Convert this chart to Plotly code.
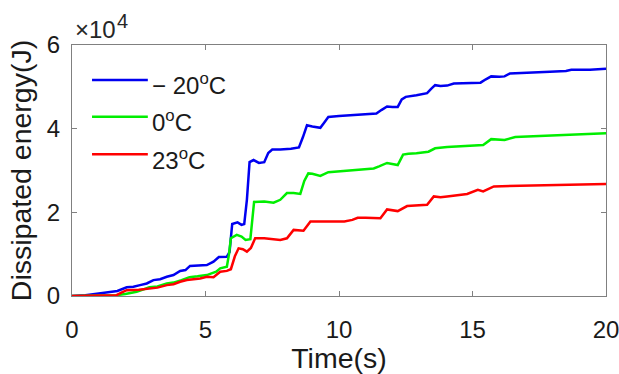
import plotly.graph_objects as go

# ---- data (energy in units of 1e4 J) ----
t_m20 = [0, 0.5, 1.0, 1.4, 1.7, 2.05, 2.3, 2.55, 2.8, 3.05, 3.3, 3.55, 3.8, 4.05, 4.25,
         4.42, 4.7, 5.05, 5.3, 5.5, 5.8, 5.9, 6.0, 6.2, 6.35, 6.45, 6.55, 6.65, 6.8, 7.0,
         7.2, 7.35, 7.5, 7.8, 8.2, 8.5, 8.65, 8.8, 9.0, 9.3, 9.45, 9.6, 10.0, 10.5, 11.0,
         11.4, 11.6, 11.8, 12.0, 12.2, 12.35, 12.5, 12.9, 13.3, 13.45, 13.6, 13.8, 14.05,
         14.3, 14.8, 15.3, 15.5, 15.7, 16.0, 16.2, 16.4, 17.0, 17.9, 18.5, 18.7, 19.4, 20]
e_m20 = [0, 0.02, 0.06, 0.09, 0.12, 0.21, 0.22, 0.26, 0.30, 0.38, 0.40, 0.46, 0.50, 0.60, 0.62,
         0.72, 0.73, 0.74, 0.82, 0.93, 0.94, 1.05, 1.72, 1.76, 1.70, 1.72, 2.3, 3.2, 3.25, 3.18,
         3.2, 3.42, 3.5, 3.5, 3.52, 3.55, 3.8, 4.08, 4.05, 4.02, 4.15, 4.28, 4.30, 4.32, 4.34,
         4.36, 4.45, 4.53, 4.52, 4.52, 4.7, 4.76, 4.8, 4.85, 4.95, 5.04, 5.02, 5.03,
         5.08, 5.09, 5.10, 5.18, 5.25, 5.24, 5.25, 5.32, 5.33, 5.36, 5.38, 5.41, 5.41, 5.43]

t_0 = [0, 0.5, 1.0, 1.67, 2.0, 2.42, 2.9, 3.2, 3.55, 3.8, 4.1, 4.4, 4.7, 5.05, 5.4,
       5.55, 5.8, 5.88, 5.95, 6.17, 6.35, 6.5, 6.68, 6.75, 6.82, 7.2, 7.55, 7.8, 8.05, 8.3,
       8.55, 8.7, 8.85, 9.0, 9.3, 9.6, 10.0, 10.5, 11.0, 11.3, 11.5, 11.8, 12.2, 12.4, 12.6,
       12.9, 13.35, 13.6, 14.05, 14.3, 15.0, 15.4, 15.7, 16.2, 16.6, 17.5, 18.7, 20]
e_0 = [0, 0.01, 0.02, 0.02, 0.05, 0.10, 0.21, 0.23, 0.30, 0.32, 0.38, 0.45, 0.47, 0.50, 0.58,
       0.66, 0.70, 1.0, 1.38, 1.46, 1.42, 1.34, 1.36, 1.9, 2.25, 2.26, 2.23, 2.3, 2.46, 2.46,
       2.44, 2.75, 2.93, 2.92, 2.87, 2.96, 2.98, 3.0, 3.02, 3.05, 3.10, 3.18, 3.13, 3.38, 3.40,
       3.41, 3.45, 3.53, 3.56, 3.57, 3.58, 3.61, 3.75, 3.73, 3.80, 3.82, 3.85, 3.89]

t_23 = [0, 0.5, 1.0, 1.67, 1.85, 2.05, 2.5, 2.9, 3.2, 3.55, 3.8, 4.05, 4.3, 4.8, 5.05,
        5.3, 5.55, 5.8, 5.95, 6.1, 6.24, 6.4, 6.55, 6.7, 6.86, 7.2, 7.8, 8.05, 8.3, 8.67,
        8.8, 8.93, 9.5, 10.2, 10.5, 10.7, 11.0, 11.55, 11.8, 12.2, 12.55, 13.0, 13.3, 13.55, 13.8,
        14.05, 14.3, 14.8, 15.2, 15.4, 15.8, 16.5, 17.9, 19.0, 20]
e_23 = [0, 0.01, 0.02, 0.02, 0.08, 0.14, 0.15, 0.18, 0.2, 0.26, 0.28, 0.34, 0.38, 0.42, 0.46,
        0.45, 0.58, 0.60, 0.64, 0.95, 1.14, 1.12, 1.06, 1.15, 1.38, 1.38, 1.34, 1.38, 1.58, 1.56,
        1.68, 1.78, 1.78, 1.78, 1.82, 1.87, 1.87, 1.86, 2.07, 2.03, 2.15, 2.17, 2.18, 2.38, 2.36,
        2.38, 2.40, 2.44, 2.54, 2.50, 2.62, 2.63, 2.64, 2.66, 2.68]

series_names = ["\u2212 20<sup>o</sup>C", "0<sup>o</sup>C", "23<sup>o</sup>C"]
series_colors = ["#0000f0", "#00ee00", "#ff0000"]
x_ticks = [0, 5, 10, 15, 20]
y_ticks = [0, 2, 4, 6]
y_scale = 1e4

FONT = "Liberation Sans, Arial, sans-serif"

fig = go.Figure()
for (t, e), name, col in zip([(t_m20, e_m20), (t_0, e_0), (t_23, e_23)], series_names, series_colors):
    fig.add_trace(go.Scatter(x=t, y=[v * y_scale for v in e], mode="lines", name=name,
                             line=dict(color=col, width=2.5), showlegend=False))

# custom legend (MATLAB style, no box)
leg_y = [0.861, 0.714, 0.565]
for name, col, yy in zip(series_names, series_colors, leg_y):
    fig.add_shape(type="line", xref="paper", yref="paper", x0=0.0375, x1=0.142, y0=yy, y1=yy,
                  line=dict(color=col, width=2.5))
    fig.add_annotation(xref="paper", yref="paper", x=0.147, y=yy - 0.018, xanchor="left",
                       yanchor="middle", text=name, showarrow=False,
                       font=dict(family=FONT, size=24, color="#1a1a1a"))

# exponent label (x10^4)
fig.add_annotation(xref="paper", yref="paper", x=0, y=1.062, xanchor="left", yanchor="middle",
                   xshift=1, text="\u00d710", showarrow=False,
                   font=dict(family=FONT, size=24, color="#262626"))
fig.add_annotation(xref="paper", yref="paper", x=0.081, y=1.096, xanchor="left", yanchor="middle",
                   text="4", showarrow=False,
                   font=dict(family=FONT, size=20, color="#262626"))

axis_common = dict(showline=True, linecolor="#808080", linewidth=1, mirror="ticks",
                   ticks="inside", ticklen=5, tickcolor="#808080", showgrid=False,
                   zeroline=False, automargin=False, ticklabeloverflow="allow",
                   tickfont=dict(family=FONT, size=24, color="#1a1a1a"))

fig.update_xaxes(range=[0, 20], tickvals=x_ticks, ticktext=[str(v) for v in x_ticks],
                 title=dict(text="Time(s)", font=dict(family=FONT, size=28.5, color="#1a1a1a"), standoff=4),
                 ticklabelstandoff=12, **axis_common)
fig.update_yaxes(range=[0, 6 * y_scale], tickvals=[v * y_scale for v in y_ticks],
                 ticktext=[str(v) for v in y_ticks],
                 title=dict(text="Dissipated energy(J)", font=dict(family=FONT, size=28.5, color="#1a1a1a"), standoff=6),
                 ticklabelstandoff=6, **axis_common)

fig.update_layout(width=619, height=374, margin=dict(l=72, r=13, t=45, b=78),
                  paper_bgcolor="white", plot_bgcolor="white",
                  font=dict(family=FONT))

fig.write_html("out.html")
